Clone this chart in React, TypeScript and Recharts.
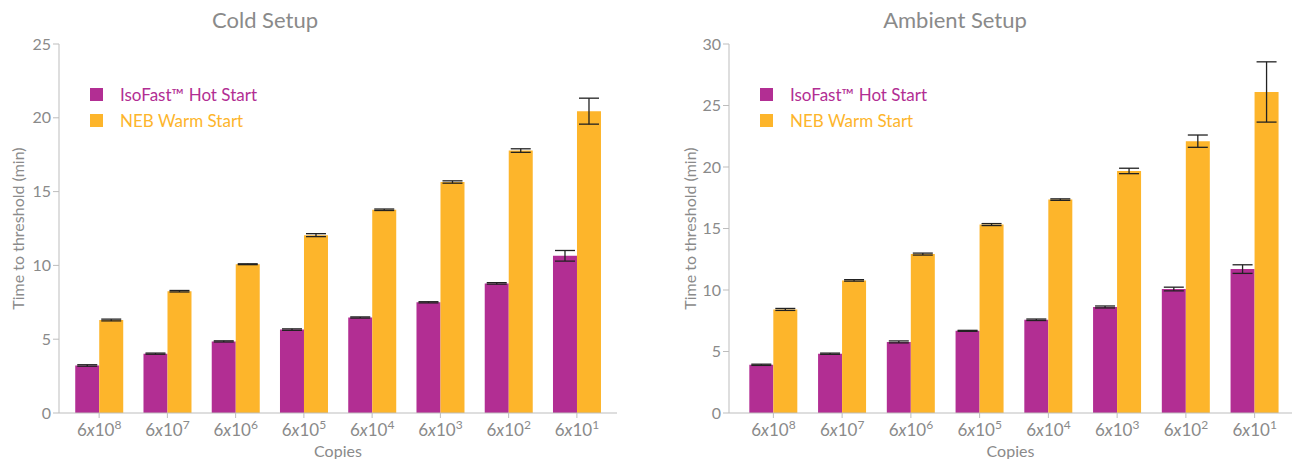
import React from 'react'
import { BarChart, Bar, XAxis, YAxis, ErrorBar } from 'recharts'

const exponents = ['8', '7', '6', '5', '4', '3', '2', '1']

const coldHot = [3.22, 4.02, 4.85, 5.65, 6.47, 7.5, 8.78, 10.65]
const coldHotErr = [0.05, 0.04, 0.04, 0.05, 0.04, 0.04, 0.05, 0.36]
const coldWarm = [6.3, 8.25, 10.08, 12.05, 13.77, 15.65, 17.78, 20.45]
const coldWarmErr = [0.06, 0.05, 0.03, 0.1, 0.05, 0.08, 0.12, 0.88]

const ambHot = [3.92, 4.82, 5.78, 6.68, 7.58, 8.62, 10.08, 11.7]
const ambHotErr = [0.05, 0.05, 0.08, 0.04, 0.06, 0.08, 0.15, 0.35]
const ambWarm = [8.42, 10.78, 12.92, 15.32, 17.35, 19.68, 22.1, 26.1]
const ambWarmErr = [0.08, 0.06, 0.08, 0.08, 0.06, 0.22, 0.5, 2.45]

const coldTicks = [0, 5, 10, 15, 20, 25]
const ambTicks = [0, 5, 10, 15, 20, 25, 30]

const seriesNames = ['IsoFast™ Hot Start', 'NEB Warm Start']

const PURPLE = '#b22e93'
const ORANGE = '#fdb52b'
const GREY = '#8a8a8a'
const AXIS = '#bdbdbd'
const FONT = 'Lato, "Open Sans", sans-serif'

const build = (hot: number[], hotErr: number[], warm: number[], warmErr: number[]) =>
  exponents.map((e, i) => ({ exp: e, hot: hot[i], hotErr: hotErr[i], warm: warm[i], warmErr: warmErr[i] }))

const CopiesTick = (props: any) => {
  const { x, y, payload } = props
  return (
    <text x={x} y={y + 16} textAnchor="middle" fill={GREY} fontSize={17} fontFamily={FONT}>
      <tspan>6</tspan>
      <tspan fontStyle="italic">x</tspan>
      <tspan>10</tspan>
      <tspan dy={-7} fontSize={12}>{payload.value}</tspan>
    </text>
  )
}

// legend sits inside the plot, top-left
const LegendBox = ({ left }: { left: number }) => (
  <div style={{ position: 'absolute', left, top: 81, fontFamily: FONT, fontSize: 17 }}>
    {seriesNames.map((n, i) => (
      <div key={n} style={{ display: 'flex', alignItems: 'center', height: 26 }}>
        <span style={{ width: 13, height: 13, background: i === 0 ? PURPLE : ORANGE, marginRight: 17 }} />
        <span style={{ color: i === 0 ? PURPLE : ORANGE }}>{n}</span>
      </div>
    ))}
  </div>
)

function SetupChart({ title, titleX, data, ticks, width, yWidth, right, labelOffset, padL, padR }: any) {
  const max = ticks[ticks.length - 1]
  return (
    <div style={{ position: 'relative', width, height: 459 }}>
      <div style={{ position: 'absolute', left: titleX - 150, width: 300, top: 5, textAlign: 'center', fontFamily: FONT, fontSize: 22, color: GREY, lineHeight: '30px' }}>
        {title}
      </div>
      <BarChart width={width} height={459} data={data} margin={{ top: 44, right, bottom: 0, left: 0 }} barGap={0} barCategoryGap="15%">
        <XAxis dataKey="exp" height={46} stroke={AXIS} tickSize={5} tick={<CopiesTick />} interval={0} padding={{ left: padL, right: padR }}
          label={{ value: 'Copies', position: 'insideBottom', offset: 2, fill: GREY, fontSize: 16, fontFamily: FONT }} />
        <XAxis xAxisId="top" dataKey="exp" orientation="top" height={0} stroke={AXIS} tick={false} tickLine={false} />
        <YAxis domain={[0, max]} ticks={ticks} width={yWidth} stroke={AXIS} tickSize={6} interval={0}
          tick={{ fill: GREY, fontSize: 16, fontFamily: FONT }}
          label={{ value: 'Time to threshold (min)', angle: -90, position: 'insideLeft', offset: labelOffset, fill: GREY, fontSize: 16, fontFamily: FONT, style: { textAnchor: 'middle' } }} />
        <YAxis yAxisId="r" orientation="right" width={0} stroke={AXIS} tick={false} tickLine={false} domain={[0, max]} />
        <Bar dataKey="hot" name={seriesNames[0]} fill={PURPLE} isAnimationActive={false}>
          <ErrorBar dataKey="hotErr" width={10} stroke="#222" strokeWidth={1.3} />
        </Bar>
        <Bar dataKey="warm" name={seriesNames[1]} fill={ORANGE} isAnimationActive={false}>
          <ErrorBar dataKey="warmErr" width={10} stroke="#222" strokeWidth={1.3} />
        </Bar>
      </BarChart>
      <LegendBox left={yWidth + 31} />
    </div>
  )
}

export default function App() {
  const cold = build(coldHot, coldHotErr, coldWarm, coldWarmErr)
  const amb = build(ambHot, ambHotErr, ambWarm, ambWarmErr)
  return (
    <div style={{ position: 'absolute', left: 0, top: 0, width: 1293, height: 459, background: '#fff' }}>
      <div style={{ position: 'absolute', left: 0, top: 0 }}>
        <SetupChart title="Cold Setup" titleX={265} data={cold} ticks={coldTicks} width={650} yWidth={59} right={33} labelOffset={18} padL={6} padR={6} />
      </div>
      <div style={{ position: 'absolute', left: 660, top: 0 }}>
        <SetupChart title="Ambient Setup" titleX={295} data={amb} ticks={ambTicks} width={633} yWidth={69} right={1} labelOffset={30} padL={10} padR={3} />
      </div>
    </div>
  )
}
